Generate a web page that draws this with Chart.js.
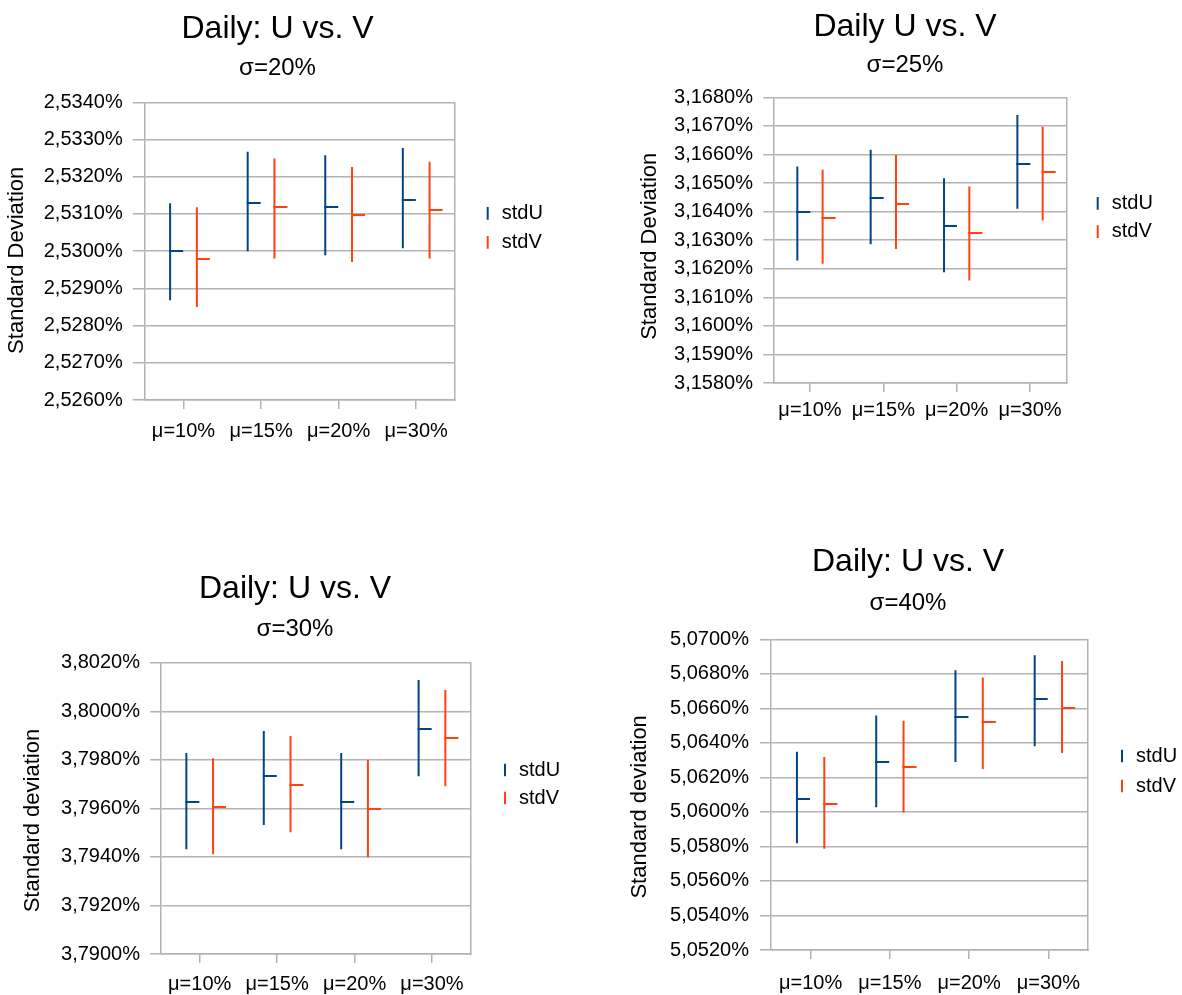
<!DOCTYPE html>
<html><head><meta charset="utf-8">
<script src="https://cdn.jsdelivr.net/npm/chart.js@4.4.1/dist/chart.umd.min.js"></script>
<style>
html,body{margin:0;padding:0;background:#fff;width:1182px;height:995px;overflow:hidden;position:relative}
canvas{position:absolute}
</style></head><body>
<canvas id="c20"></canvas>
<canvas id="c25"></canvas>
<canvas id="c30"></canvas>
<canvas id="c40"></canvas>
<script>
// ---------- data ----------
const categories = ['μ=10%', 'μ=15%', 'μ=20%', 'μ=30%'];
const seriesNames = ['stdU', 'stdV'];

// σ=20%
const s20_stdU_high  = [2.53129, 2.53267, 2.53258, 2.53277];
const s20_stdU_close = [2.53000, 2.53129, 2.53119, 2.53138];
const s20_stdU_low   = [2.52868, 2.53000, 2.52989, 2.53008];
const s20_stdV_high  = [2.53118, 2.53249, 2.53226, 2.53240];
const s20_stdV_close = [2.52980, 2.53119, 2.53096, 2.53110];
const s20_stdV_low   = [2.52850, 2.52980, 2.52971, 2.52980];
const s20_yTicks = [2.526, 2.534, 0.001];

// σ=25%
const s25_stdU_high  = [3.16558, 3.16616, 3.16517, 3.16738];
const s25_stdU_close = [3.16397, 3.16449, 3.16350, 3.16565];
const s25_stdU_low   = [3.16229, 3.16286, 3.16188, 3.16410];
const s25_stdV_high  = [3.16546, 3.16598, 3.16488, 3.16697];
const s25_stdV_close = [3.16379, 3.16426, 3.16326, 3.16537];
const s25_stdV_low   = [3.16217, 3.16269, 3.16159, 3.16369];
const s25_yTicks = [3.158, 3.168, 0.001];

// σ=30%
const s30_stdU_high  = [3.79828, 3.79919, 3.79828, 3.80129];
const s30_stdU_close = [3.79627, 3.79732, 3.79627, 3.79927];
const s30_stdU_low   = [3.79432, 3.79531, 3.79432, 3.79732];
const s30_stdV_high  = [3.79806, 3.79898, 3.79799, 3.80088];
const s30_stdV_close = [3.79607, 3.79697, 3.79599, 3.79891];
const s30_stdV_low   = [3.79411, 3.79502, 3.79399, 3.79691];
const s30_yTicks = [3.790, 3.802, 0.002];

// σ=40%
const s40_stdU_high  = [5.06348, 5.06559, 5.06821, 5.06907];
const s40_stdU_close = [5.06077, 5.06287, 5.06549, 5.06655];
const s40_stdU_low   = [5.05818, 5.06027, 5.06289, 5.06381];
const s40_stdV_high  = [5.06318, 5.06528, 5.06778, 5.06875];
const s40_stdV_close = [5.06048, 5.06258, 5.06518, 5.06603];
const s40_stdV_low   = [5.05786, 5.05996, 5.06248, 5.06341];
const s40_yTicks = [5.052, 5.070, 0.002];

// ---------- styles / layout ----------
const COLORS = ['#004586', '#ff420e'];
const GRID = '#b3b3b3';
const FONT = '"Liberation Sans", Arial, Helvetica, sans-serif';
Chart.defaults.font.family = FONT;
Chart.defaults.color = '#000';

const closeTicks = {
  id: 'closeTicks',
  afterDatasetsDraw(chart, args, opts) {
    const ctx = chart.ctx;
    const ys = chart.scales.y;
    chart.data.datasets.forEach((ds, di) => {
      const meta = chart.getDatasetMeta(di);
      if (!ds.closeValues || meta.hidden) return;
      ctx.save();
      ctx.strokeStyle = ds.backgroundColor;
      ctx.lineWidth = 2;
      meta.data.forEach((bar, i) => {
        const y = Math.round(ys.getPixelForValue(ds.closeValues[i]));
        ctx.beginPath();
        ctx.moveTo(bar.x - 1, y);
        ctx.lineTo(bar.x + opts.length, y);
        ctx.stroke();
      });
      ctx.restore();
    });
  }
};

const legendWidth = {
  id: 'legendWidth',
  beforeUpdate(chart, args, opts) {
    const lg = chart.legend;
    if (lg && !lg._fixedW) {
      const orig = lg.fit.bind(lg);
      lg.fit = function () { orig(); this.width = opts.width; };
      lg._fixedW = true;
    }
  }
};

function fmt(v) { return Number(v).toFixed(4).replace('.', ',') + '%'; }

function makePanel(id, L, txt, yTicks, uLow, uHigh, uClose, vLow, vHigh, vClose) {
  const cv = document.getElementById(id);
  const height = L.plotB + 50 - L.top;
  cv.width = L.width; cv.height = height;
  cv.style.left = L.left + 'px'; cv.style.top = L.top + 'px';
  const yW = L.plotL - L.left;
  const xH = L.top + height - L.plotB;
  const legW = L.left + L.width - L.plotR - L.gap;
  new Chart(cv, {
    type: 'bar',
    data: {
      labels: categories,
      datasets: [
        { label: seriesNames[0], data: uLow.map((l, i) => [l, uHigh[i]]), closeValues: uClose,
          backgroundColor: COLORS[0], borderWidth: 0, maxBarThickness: 2, categoryPercentage: 0.69, barPercentage: 1 },
        { label: seriesNames[1], data: vLow.map((l, i) => [l, vHigh[i]]), closeValues: vClose,
          backgroundColor: COLORS[1], borderWidth: 0, maxBarThickness: 2, categoryPercentage: 0.69, barPercentage: 1 }
      ]
    },
    options: {
      responsive: false,
      animation: false,
      devicePixelRatio: 1,
      layout: { padding: 0 },
      scales: {
        x: {
          offset: true,
          grid: { offset: false, drawOnChartArea: false, tickLength: 9, color: GRID, lineWidth: 1.5 },
          border: { color: GRID, width: 1.5 },
          ticks: { font: { size: 20 }, color: '#000', padding: L.xPad, maxRotation: 0 },
          afterFit: s => { s.height = xH; }
        },
        y: {
          min: yTicks[0], max: yTicks[1],
          grid: { color: GRID, lineWidth: 1.5, tickLength: L.tickLen },
          border: { color: GRID, width: 1.5 },
          ticks: { stepSize: yTicks[2], font: { size: 20 }, color: '#000', padding: L.tickPad, callback: v => fmt(v) },
          title: { display: true, text: txt.yTitle, font: { size: 22 }, color: '#000', padding: { top: L.yTitlePad, bottom: 0 } },
          afterFit: s => { s.width = yW; }
        },
        y2: {
          position: 'right', min: yTicks[0], max: yTicks[1],
          ticks: { display: false },
          grid: { drawOnChartArea: false, drawTicks: false },
          border: { display: true, color: GRID, width: 1.5 },
          afterFit: s => { s.width = L.gap; }
        }
      },
      plugins: {
        title: { display: true, text: txt.title, font: { size: 32, weight: 'normal' }, color: '#000',
                 padding: { top: L.titleTop, bottom: L.titleBottom } },
        subtitle: { display: true, text: txt.sub, font: { size: 24, weight: 'normal' }, color: '#000',
                 padding: { top: 0, bottom: L.subBottom } },
        legend: {
          position: 'right', align: 'start', fullSize: false,
          title: { display: true, text: '', font: { size: 1 }, padding: { top: L.legendOffset, bottom: 0 } },
          labels: {
            usePointStyle: true, boxWidth: 8, boxHeight: 9, padding: L.legendPad,
            font: { size: 20 }, color: '#000',
            generateLabels: chart => chart.data.datasets.map((ds, i) => ({
              text: ds.label, fillStyle: ds.backgroundColor, strokeStyle: ds.backgroundColor,
              lineWidth: 2, pointStyle: 'line', rotation: 90, hidden: false, datasetIndex: i, fontColor: '#000'
            }))
          }
        },
        tooltip: { enabled: false },
        closeTicks: { length: 13 },
        legendWidth: { width: legW }
      }
    },
    plugins: [closeTicks, legendWidth]
  });
}

makePanel('c20',
  { left: 0, top: 0, width: 555, plotL: 144.7, plotR: 455, plotT: 102.3, plotB: 400,
    yTitlePad: 3.5, tickLen: 12, tickPad: 10, xPad: 10.7,
    titleTop: 9.8, titleBottom: 5.9, subBottom: 19.4, gap: 19.7, legendPad: 9, legendOffset: 90.8 },
  { title: 'Daily: U vs. V', sub: 'σ=20%', yTitle: 'Standard Deviation   ' }, s20_yTicks,
  s20_stdU_low, s20_stdU_high, s20_stdU_close, s20_stdV_low, s20_stdV_high, s20_stdV_close);

makePanel('c25',
  { left: 620, top: 0, width: 570, plotL: 773.3, plotR: 1066.7, plotT: 97.3, plotB: 383.3,
    yTitlePad: 16.8, tickLen: 10, tickPad: 10.3, xPad: 6.7,
    titleTop: 7.8, titleBottom: 4.9, subBottom: 17.4, gap: 18.6, legendPad: 8.4, legendOffset: 86.4 },
  { title: 'Daily U vs. V', sub: 'σ=25%', yTitle: 'Standard Deviation  ' }, s25_yTicks,
  s25_stdU_low, s25_stdU_high, s25_stdU_close, s25_stdV_low, s25_stdV_high, s25_stdV_close);

makePanel('c30',
  { left: 0, top: 550, width: 590, plotL: 161, plotR: 470.7, plotT: 662.7, plotB: 954.3,
    yTitlePad: 19.8, tickLen: 11, tickPad: 10, xPad: 9.7,
    titleTop: 19.8, titleBottom: 6.9, subBottom: 18.8, gap: 22.3, legendPad: 8, legendOffset: 88.1 },
  { title: 'Daily: U vs. V', sub: 'σ=30%', yTitle: 'Standard deviation    ' }, s30_yTicks,
  s30_stdU_low, s30_stdU_high, s30_stdU_close, s30_stdV_low, s30_stdV_high, s30_stdV_close);

makePanel('c40',
  { left: 610, top: 520, width: 596, plotL: 771, plotR: 1088, plotT: 639.3, plotB: 950.6,
    yTitlePad: 16.8, tickLen: 11, tickPad: 11, xPad: 12.4,
    titleTop: 23.3, titleBottom: 6.9, subBottom: 21.9, gap: 20, legendPad: 10, legendOffset: 95.5 },
  { title: 'Daily: U vs. V', sub: 'σ=40%', yTitle: 'Standard deviation    ' }, s40_yTicks,
  s40_stdU_low, s40_stdU_high, s40_stdU_close, s40_stdV_low, s40_stdV_high, s40_stdV_close);
</script>
</body></html>
